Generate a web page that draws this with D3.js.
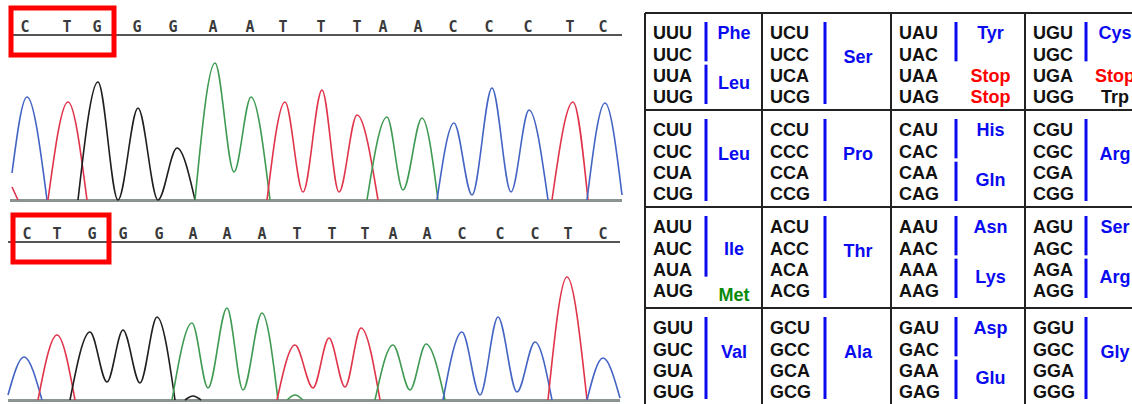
<!DOCTYPE html>
<html>
<head>
<meta charset="utf-8">
<script src="https://cdn.jsdelivr.net/npm/d3@7"></script>
<style>
  body { margin: 0; background: #fff; }
  .base-letter { font-family: "DejaVu Sans Mono", monospace; font-size: 15px; font-weight: bold; fill: #3a3a3a; }
  .codon { font-family: "Liberation Sans", Arial, sans-serif; font-size: 18px; font-weight: bold; fill: #111; }
  .amino { font-family: "Liberation Sans", Arial, sans-serif; font-size: 18px; font-weight: bold; }
</style>
</head>
<body>
<div id="figure"></div>
<script>
// ---- chromatogram data (scan position, signal intensity) ----
const topSequence = ['C', 'T', 'G', 'G', 'G', 'A', 'A', 'T', 'T', 'T', 'A', 'A', 'C', 'C', 'C', 'T', 'C'];
const topCallScans = [15, 57, 87, 127, 163, 203, 240, 273, 311, 347, 373, 408, 443, 479, 518, 560, 593];
const topTraces = [
  { base: 'T', points: [[2, 130], [8, 0]] },
  { base: 'C', points: [[2, 270], [17, 1030], [37, 0]] },
  { base: 'T', points: [[38, 0], [58, 980], [77, 0]] },
  { base: 'G', points: [[68, 0], [88, 1180], [108, 0], [128, 920], [148, 0], [167, 520], [185, 0]] },
  { base: 'A', points: [[185, 0], [205, 1370], [224, 280], [241, 1030], [260, 0]] },
  { base: 'T', points: [[257, 0], [275, 980], [293, 80], [312, 1100], [329, 80], [347, 850], [368, 0]] },
  { base: 'A', points: [[357, 0], [377, 830], [393, 100], [412, 820], [428, 0]] },
  { base: 'C', points: [[427, 0], [444, 770], [462, 50], [482, 1120], [501, 80], [519, 900], [538, 0]] },
  { base: 'T', points: [[542, 0], [563, 980], [578, 0]] },
  { base: 'C', points: [[577, 0], [595, 970], [612, 50]] }
];

const bottomSequence = ['C', 'T', 'G', 'G', 'G', 'A', 'A', 'A', 'T', 'T', 'T', 'A', 'A', 'C', 'C', 'C', 'T', 'C'];
const bottomCallScans = [19, 49, 84, 115, 151, 185, 219, 254, 289, 324, 357, 385, 419, 454, 492, 527, 560, 595];
const bottomTraces = [
  { base: 'C', points: [[0, 50], [16, 430], [34, 0]] },
  { base: 'T', points: [[30, 0], [49, 650], [67, 0]] },
  { base: 'G', points: [[62, 0], [82, 680], [99, 180], [115, 700], [132, 170], [149, 830], [167, 0]] },
  { base: 'G', points: [[177, 0], [185, 40], [193, 0]] },
  { base: 'A', points: [[164, 0], [184, 770], [200, 120], [219, 920], [235, 100], [254, 870], [270, 0]] },
  { base: 'A', points: [[279, 0], [287, 50], [295, 0]] },
  { base: 'T', points: [[269, 0], [287, 550], [305, 120], [321, 620], [337, 130], [353, 720], [372, 0]] },
  { base: 'A', points: [[367, 0], [385, 550], [402, 100], [418, 560], [437, 0]] },
  { base: 'C', points: [[435, 0], [454, 680], [472, 50], [490, 830], [509, 80], [527, 580], [544, 0]] },
  { base: 'T', points: [[540, 0], [559, 1230], [579, 0]] },
  { base: 'C', points: [[579, 0], [595, 420], [612, 20]] }
];

// ---- codon table data ----
const bases = ['U', 'C', 'A', 'G'];
// amino acid groups per [first base][second base]: name, first/last third-base index, kind
const aminoGroups = [
  [
    [{ name: 'Phe', from: 0, to: 1 }, { name: 'Leu', from: 2, to: 3 }],
    [{ name: 'Ser', from: 0, to: 3 }],
    [{ name: 'Tyr', from: 0, to: 1 }, { name: 'Stop', from: 2, to: 2, kind: 'stop' }, { name: 'Stop', from: 3, to: 3, kind: 'stop' }],
    [{ name: 'Cys', from: 0, to: 1 }, { name: 'Stop', from: 2, to: 2, kind: 'stop' }, { name: 'Trp', from: 3, to: 3, kind: 'plain' }]
  ],
  [
    [{ name: 'Leu', from: 0, to: 3 }],
    [{ name: 'Pro', from: 0, to: 3 }],
    [{ name: 'His', from: 0, to: 1 }, { name: 'Gln', from: 2, to: 3 }],
    [{ name: 'Arg', from: 0, to: 3 }]
  ],
  [
    [{ name: 'Ile', from: 0, to: 2 }, { name: 'Met', from: 3, to: 3, kind: 'start' }],
    [{ name: 'Thr', from: 0, to: 3 }],
    [{ name: 'Asn', from: 0, to: 1 }, { name: 'Lys', from: 2, to: 3 }],
    [{ name: 'Ser', from: 0, to: 1 }, { name: 'Arg', from: 2, to: 3 }]
  ],
  [
    [{ name: 'Val', from: 0, to: 3 }],
    [{ name: 'Ala', from: 0, to: 3 }],
    [{ name: 'Asp', from: 0, to: 1 }, { name: 'Glu', from: 2, to: 3 }],
    [{ name: 'Gly', from: 0, to: 3 }]
  ]
];

// trace colours per base
const baseColor = { A: '#3f9a52', C: '#4464c4', G: '#1e1e1e', T: '#e0344a' };
const kindColor = { amino: '#0a0af0', stop: '#ff0000', start: '#0a8a0a', plain: '#111' };

const svgWidth = 1132;
const svgHeight = 404;

const svg = d3.select('#figure')
  .append('svg')
  .attr('width', svgWidth)
  .attr('height', svgHeight)
  .style('display', 'block');

svg.append('rect').attr('width', svgWidth).attr('height', svgHeight).attr('fill', '#fff');

// draw one chromatogram panel
function drawPanel(panel, sequence, callScans, traces) {
  const x = d3.scaleLinear().domain([0, 612]).range([panel.left, panel.left + 612]);
  const y = d3.scaleLinear().domain([0, 1700]).range([panel.baseY, panel.baseY - 170]);
  const g = svg.append('g');

  // baseline
  g.append('line')
    .attr('x1', x(0)).attr('x2', x(612))
    .attr('y1', panel.baseY + 0.5).attr('y2', panel.baseY + 0.5)
    .attr('stroke', '#8c9490').attr('stroke-width', 3);

  const line = d3.line()
    .x(d => x(d[0]))
    .y(d => y(d[1]))
    .curve(d3.curveMonotoneX);

  g.selectAll('path.trace')
    .data(traces)
    .enter()
    .append('path')
    .attr('class', 'trace')
    .attr('d', d => line(d.points))
    .attr('fill', 'none')
    .attr('stroke', d => baseColor[d.base])
    .attr('stroke-width', 1.6)
    .attr('stroke-linejoin', 'round');

  // base call ruler
  g.append('line')
    .attr('x1', x(0)).attr('x2', x(612))
    .attr('y1', panel.lineY).attr('y2', panel.lineY)
    .attr('stroke', '#555').attr('stroke-width', 2);

  g.selectAll('text.base-letter')
    .data(sequence)
    .enter()
    .append('text')
    .attr('class', 'base-letter')
    .attr('x', (d, i) => x(callScans[i]))
    .attr('y', panel.lineY - 3)
    .attr('text-anchor', 'middle')
    .text(d => d);

  // highlight the first codon
  const x0 = x(callScans[0]) - 14;
  const x1 = x(callScans[2]) + 17;
  g.append('rect')
    .attr('x', x0).attr('y', panel.lineY - 27)
    .attr('width', x1 - x0).attr('height', 47)
    .attr('fill', 'none')
    .attr('stroke', '#ff0000')
    .attr('stroke-width', 5);
}

drawPanel({ left: 10, baseY: 200, lineY: 35 }, topSequence, topCallScans, topTraces);
drawPanel({ left: 8, baseY: 400, lineY: 242 }, bottomSequence, bottomCallScans, bottomTraces);

// ---- codon table ----
function drawCodonTable() {
  const colEdges = [645, 762, 891, 1025, 1144];
  const colX = d3.scaleOrdinal().domain(bases).range(colEdges.slice(0, 4));
  const rowY = d3.scaleOrdinal().domain(bases).range([13, 110, 207, 308]);
  const barOffset = [61, 63, 65, 61];
  const codonY = d3.scaleLinear().domain([0, 3]).range([20, 84]);
  const t = svg.append('g');

  // grid
  t.selectAll('line.hgrid')
    .data(bases)
    .enter()
    .append('line')
    .attr('x1', 645).attr('x2', svgWidth)
    .attr('y1', d => rowY(d)).attr('y2', d => rowY(d))
    .attr('stroke', '#222').attr('stroke-width', 2);

  t.selectAll('line.vgrid')
    .data(bases)
    .enter()
    .append('line')
    .attr('x1', d => colX(d)).attr('x2', d => colX(d))
    .attr('y1', 13).attr('y2', svgHeight)
    .attr('stroke', '#222').attr('stroke-width', 2);

  const labelIndex = d => {
    const n = d.to - d.from + 1;
    if (n === 1) return d.from + (d.kind === 'start' ? 0.15 : 0);
    if (n === 2) return d.from === 0 ? 0 : 2.3;
    if (n === 3) return 1;
    return 1.1;
  };

  bases.forEach((first, ri) => {
    bases.forEach((second, ci) => {
      const cx = colX(second);
      const cy = rowY(first);
      const cell = t.append('g');

      cell.selectAll('text.codon')
        .data(bases)
        .enter()
        .append('text')
        .attr('class', 'codon')
        .attr('x', cx + 8)
        .attr('y', (d, i) => cy + codonY(i))
        .attr('dy', '0.36em')
        .text(d => first + second + d);

      const groups = aminoGroups[ri][ci];
      const barX = cx + barOffset[ci];
      const labelX = (barX + colEdges[ci + 1]) / 2;

      cell.selectAll('line.bar')
        .data(groups.filter(d => !d.kind))
        .enter()
        .append('line')
        .attr('x1', barX).attr('x2', barX)
        .attr('y1', d => cy + codonY(d.from) - 11)
        .attr('y2', d => cy + codonY(d.to) + 7)
        .attr('stroke', kindColor.amino)
        .attr('stroke-width', 3);

      cell.selectAll('text.amino')
        .data(groups)
        .enter()
        .append('text')
        .attr('class', 'amino')
        .attr('x', labelX)
        .attr('y', d => cy + codonY(labelIndex(d)))
        .attr('dy', '0.36em')
        .attr('text-anchor', 'middle')
        .attr('fill', d => kindColor[d.kind || 'amino'])
        .text(d => d.name);
    });
  });
}

drawCodonTable();
</script>
</body>
</html>
